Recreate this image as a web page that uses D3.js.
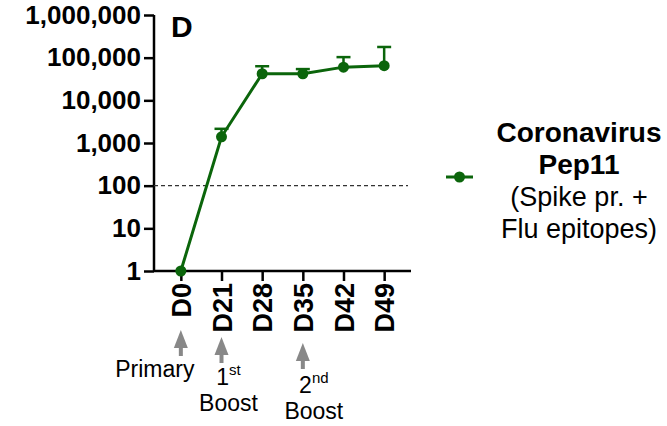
<!DOCTYPE html>
<html>
<head>
<meta charset="utf-8">
<script src="https://cdn.jsdelivr.net/npm/d3@7"></script>
<style>
  body { margin: 0; background: #fff; }
  svg { display: block; font-family: Arial, "Liberation Sans", sans-serif; }
</style>
</head>
<body>
<div id="chart"></div>
<script>
// Antibody titer per timepoint (geometric mean, upper error)
const days = ['D0', 'D21', 'D28', 'D35', 'D42', 'D49'];
const titer = [1, 1400, 42000, 42000, 60000, 65000];
const titerUpper = [1, 2150, 63000, 54000, 103000, 178000];
const yTicks = [1, 10, 100, 1000, 10000, 100000, 1000000];
const cutoff = 100;
const legendLines = ['Coronavirus', 'Pep11', '(Spike pr. +', 'Flu epitopes)'];
const arrowDays = ['D0', 'D21', 'D35'];

const width = 667;
const height = 426;
const green = '#0b650b';

const svg = d3.select('#chart')
    .append('svg')
    .attr('width', width)
    .attr('height', height);

const x = d3.scalePoint()
    .domain(days)
    .range([154, 411])
    .padding(0.66);

const y = d3.scaleLog()
    .domain([1, 1000000])
    .range([271, 15]);

const data = days.map((d, i) => ({ day: d, v: titer[i], hi: titerUpper[i] }));

// y axis
const yAxis = svg.append('g')
    .attr('transform', 'translate(154,0)')
    .call(d3.axisLeft(y).tickValues(yTicks).tickSize(10).tickPadding(3)
        .tickFormat(d3.format(',')));
yAxis.select('.domain').attr('d', `M0,${y(1000000)}V${y(1)}`);
yAxis.selectAll('line, path').attr('stroke', '#000').attr('stroke-width', 2.5);
yAxis.selectAll('text')
    .attr('font-size', '26px')
    .attr('font-weight', 'bold')
    .attr('font-family', 'Arial, "Liberation Sans", sans-serif')
    .attr('fill', '#000');

// x axis
const xAxis = svg.append('g')
    .attr('transform', 'translate(0,271)')
    .call(d3.axisBottom(x).tickSize(10).tickPadding(0));
xAxis.select('.domain').attr('d', 'M154,0H411');
xAxis.selectAll('line, path').attr('stroke', '#000').attr('stroke-width', 2.5);
xAxis.selectAll('text')
    .attr('font-size', '27px')
    .attr('font-weight', 'bold')
    .attr('font-family', 'Arial, "Liberation Sans", sans-serif')
    .attr('fill', '#000')
    .attr('transform', 'rotate(-90)')
    .attr('text-anchor', 'end')
    .attr('x', -12)
    .attr('y', 0)
    .attr('dy', '0.36em');

// cutoff line
svg.append('line')
    .attr('x1', 154).attr('x2', 408)
    .attr('y1', y(cutoff)).attr('y2', y(cutoff))
    .attr('stroke', '#333')
    .attr('stroke-width', 1.3)
    .attr('stroke-dasharray', '4,3');

// error bars (upper only)
const err = svg.append('g');
err.selectAll('line.stem')
    .data(data.filter(d => d.hi > d.v))
    .join('line')
    .attr('class', 'stem')
    .attr('x1', d => x(d.day)).attr('x2', d => x(d.day))
    .attr('y1', d => y(d.v)).attr('y2', d => y(d.hi))
    .attr('stroke', green).attr('stroke-width', 2.5);
err.selectAll('line.cap')
    .data(data.filter(d => d.hi > d.v))
    .join('line')
    .attr('class', 'cap')
    .attr('x1', d => x(d.day) - 7).attr('x2', d => x(d.day) + 7)
    .attr('y1', d => y(d.hi)).attr('y2', d => y(d.hi))
    .attr('stroke', green).attr('stroke-width', 2.5);

// line + points
svg.append('path')
    .datum(data)
    .attr('fill', 'none')
    .attr('stroke', green)
    .attr('stroke-width', 3)
    .attr('d', d3.line().x(d => x(d.day)).y(d => y(d.v)));

svg.selectAll('circle.pt')
    .data(data)
    .join('circle')
    .attr('class', 'pt')
    .attr('cx', d => x(d.day))
    .attr('cy', d => y(d.v))
    .attr('r', 5.5)
    .attr('fill', green);

// panel letter
svg.append('text')
    .attr('x', 171).attr('y', 37)
    .attr('font-size', '30px')
    .attr('font-weight', 'bold')
    .text('D');

// legend
svg.append('line')
    .attr('x1', 446).attr('x2', 473)
    .attr('y1', 177).attr('y2', 177)
    .attr('stroke', green).attr('stroke-width', 3);
svg.append('circle')
    .attr('cx', 459.5).attr('cy', 177).attr('r', 5.5)
    .attr('fill', green);
svg.selectAll('text.leg')
    .data(legendLines)
    .join('text')
    .attr('class', 'leg')
    .attr('x', 579)
    .attr('y', (d, i) => 142 + i * 32)
    .attr('text-anchor', 'middle')
    .attr('font-size', (d, i) => i < 2 ? '28px' : '27px')
    .attr('font-weight', (d, i) => i < 2 ? 'bold' : 'normal')
    .attr('fill', '#000')
    .text(d => d);

// vaccination arrows
const arrowTops = { D0: 330, D21: 337, D35: 343 };
arrowDays.forEach(d => {
    const ax = x(d);
    const top = arrowTops[d];
    svg.append('path')
        .attr('d', `M${ax},${top}L${ax - 7},${top + 18}L${ax + 7},${top + 18}Z`)
        .attr('fill', '#888');
    svg.append('rect')
        .attr('x', ax - 2).attr('y', top + 17)
        .attr('width', 4).attr('height', 9)
        .attr('fill', '#888');
});

// annotation labels
const note = svg.append('g')
    .attr('font-size', '23px')
    .attr('fill', '#000')
    .attr('text-anchor', 'middle');
note.append('text').attr('x', x('D0') - 26).attr('y', 377).text('Primary');

const t1 = note.append('text').attr('x', x('D21') + 7).attr('y', 385);
t1.append('tspan').text('1');
t1.append('tspan').attr('font-size', '15px').attr('dy', -10).text('st');
note.append('text').attr('x', x('D21') + 7).attr('y', 411).text('Boost');

const t2 = note.append('text').attr('x', x('D35') + 11).attr('y', 393);
t2.append('tspan').text('2');
t2.append('tspan').attr('font-size', '15px').attr('dy', -10).text('nd');
note.append('text').attr('x', x('D35') + 11).attr('y', 419).text('Boost');
</script>
</body>
</html>
